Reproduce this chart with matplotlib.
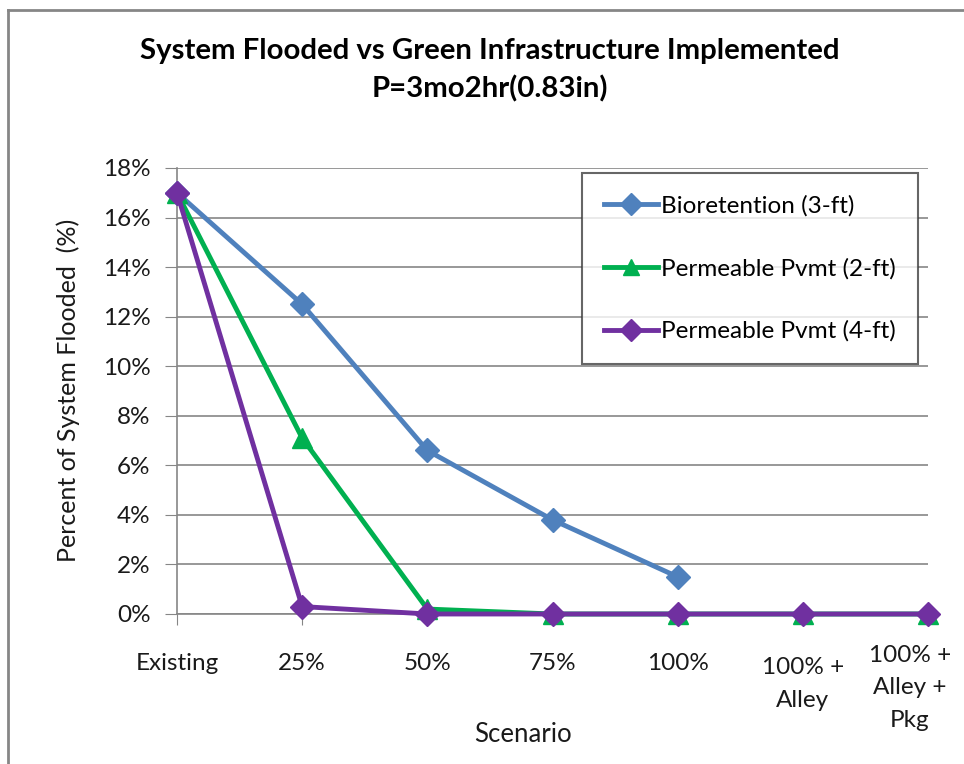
import matplotlib
matplotlib.use("Agg")
import matplotlib.pyplot as plt
from matplotlib.lines import Line2D
from matplotlib.ticker import FuncFormatter, MultipleLocator
from matplotlib.transforms import ScaledTranslation

plt.rcParams['font.family'] = ['Lato', 'DejaVu Sans']

scenarios = ["Existing", "25%", "50%", "75%", "100%", "100% +\nAlley", "100% +\nAlley +\nPkg"]
bioretention = [17.0, 12.5, 6.6, 3.8, 1.5]
perm_2ft = [17.0, 7.1, 0.2, 0.0, 0.0, 0.0, 0.0]
perm_4ft = [17.0, 0.3, 0.0, 0.0, 0.0, 0.0, 0.0]

series_names = ["Bioretention (3-ft)", "Permeable Pvmt (2-ft)", "Permeable Pvmt (4-ft)"]
colors = ["#4F81BD", "#00B050", "#7030A0"]

fig = plt.figure(figsize=(9.64, 7.64), dpi=100)
ax = fig.add_axes([177/964, 1 - 614/764, (928 - 177)/964, (614 - 168)/764])

x_all = list(range(len(scenarios)))
ax.plot(x_all[:len(bioretention)], bioretention, color=colors[0], lw=3.5,
        marker="D", ms=12, label=series_names[0], zorder=3)
ax.plot(x_all, perm_2ft, color=colors[1], lw=3.5,
        marker="^", ms=14, label=series_names[1], zorder=3)
ax.plot(x_all, perm_4ft, color=colors[2], lw=3.5,
        marker="D", ms=12, label=series_names[2], zorder=4)

ax.set_xlim(0, len(scenarios) - 1)
ax.set_ylim(0, 18)
ax.yaxis.set_major_locator(MultipleLocator(2))
ax.yaxis.set_major_formatter(FuncFormatter(lambda v, p: f"{v:.0f}%"))
ax.set_xticks(x_all)
ax.set_xticklabels(scenarios, fontsize=17.5, color="#1a1a1a", linespacing=1.7,
                   va="center")
ax.tick_params(axis="y", labelsize=17.5, labelcolor="#1a1a1a", length=9,
               color="#868686", pad=10)
ax.tick_params(axis="x", length=8, color="#868686", pad=28)

# shift the multi-line category labels the way the spreadsheet lays them out
label_shift_px = [(0, 0), (0, 0), (0, 0), (0, 0), (0, 0), (0, -20), (-18, -24)]
for lbl, (dx, dy) in zip(ax.get_xticklabels(), label_shift_px):
    lbl.set_transform(lbl.get_transform() +
                      ScaledTranslation(dx / 100, dy / 100, fig.dpi_scale_trans))

ax.grid(axis="y", color="#868686", lw=1.2)
ax.set_axisbelow(True)
for side in ("top", "right"):
    ax.spines[side].set_visible(False)
for side in ("left", "bottom"):
    ax.spines[side].set_color("#868686")
    ax.spines[side].set_linewidth(1.2)
for mk in ax.get_lines():
    mk.set_clip_on(False)

fig.text(523/964, 1 - 735/764, "Scenario", ha="center", va="center",
         fontsize=18.5, color="#1a1a1a")
fig.text(68/964, 1 - 390/764, "Percent of System Flooded  (%)", ha="center",
         va="center", rotation=90, fontsize=18, color="#1a1a1a")

leg = ax.legend(loc="upper right", bbox_to_anchor=(918/964, 1 - 173/764),
                bbox_transform=fig.transFigure, fontsize=17.5, frameon=True,
                fancybox=False, edgecolor="#404040", borderpad=0.9,
                labelspacing=1.7, handlelength=2.2, handletextpad=0.15,
                borderaxespad=0)
leg.get_frame().set_linewidth(1.5)
for h in leg.legend_handles:
    h.set_markersize(11)

fig.text(490/964, 1 - 51/764, "System Flooded vs Green Infrastructure Implemented",
         ha="center", va="center", fontsize=21.2, fontweight="bold", color="#000000")
fig.text(490/964, 1 - 89/764, "P=3mo2hr(0.83in)",
         ha="center", va="center", fontsize=21.2, fontweight="bold", color="#000000")

fig.add_artist(Line2D([8/964, 8/964], [0, 1 - 10/764], transform=fig.transFigure,
                      color="#868686", lw=2))
fig.add_artist(Line2D([8/964, 1], [1 - 10/764, 1 - 10/764], transform=fig.transFigure,
                      color="#868686", lw=2))

fig.savefig("out.png", dpi=100)
